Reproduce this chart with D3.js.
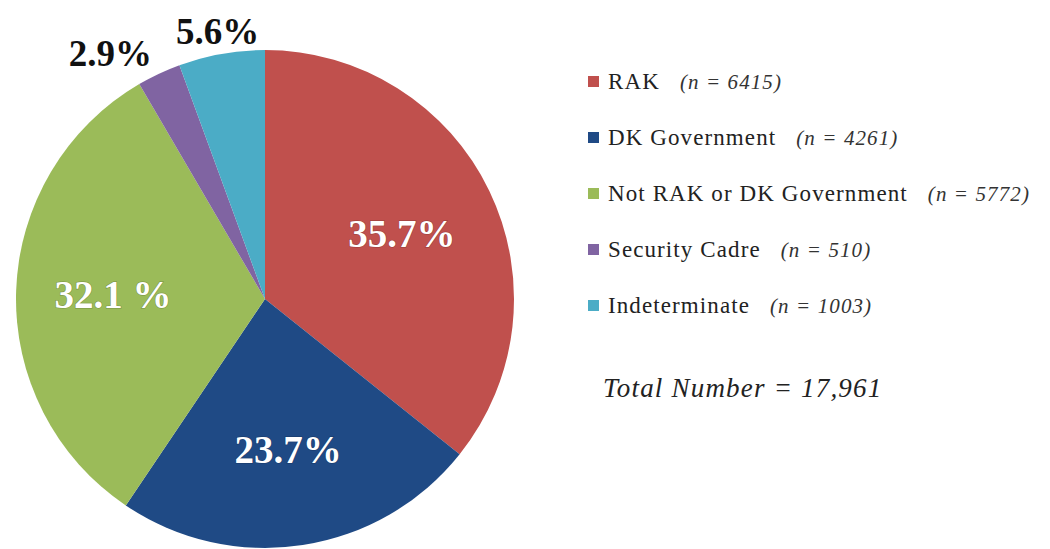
<!DOCTYPE html>
<html>
<head>
<meta charset="utf-8">
<script src="https://cdn.jsdelivr.net/npm/d3@7"></script>
<style>
  body { margin: 0; background: #fff; }
  svg text { font-family: "Liberation Serif", "Times New Roman", Times, serif; }
</style>
</head>
<body>
<svg id="chart"></svg>
<script>
// data
var categories = ["RAK", "DK Government", "Not RAK or DK Government", "Security Cadre", "Indeterminate"];
var counts = [6415, 4261, 5772, 510, 1003];
var pctLabels = ["35.7%", "23.7%", "32.1 %", "2.9%", "5.6%"];
var colors = ["#C0504D", "#1F4A85", "#9BBB59", "#8064A2", "#4BACC6"];
var totalLabel = "Total Number = 17,961";

var width = 1050, height = 549;
var cx = 265, cy = 299, radius = 249;

var svg = d3.select("#chart")
  .attr("width", width)
  .attr("height", height);

var data = categories.map(function(c, i) {
  return { name: c, n: counts[i], label: pctLabels[i], color: colors[i] };
});

var pie = d3.pie().sort(null).value(function(d) { return d.n; });
var arcs = pie(data);

var arc = d3.arc().innerRadius(0).outerRadius(radius);
var inArc = d3.arc().innerRadius(152).outerRadius(152);
var outArc = d3.arc().innerRadius(272).outerRadius(272);

var g = svg.append("g").attr("transform", "translate(" + cx + "," + cy + ")");

g.selectAll("path.slice")
  .data(arcs)
  .enter().append("path")
  .attr("class", "slice")
  .attr("d", arc)
  .attr("fill", function(d) { return d.data.color; });

// small slices get their label outside
function isSmall(d) { return (d.endAngle - d.startAngle) < 0.5; }

g.selectAll("text.inlab")
  .data(arcs.filter(function(d) { return !isSmall(d); }))
  .enter().append("text")
  .attr("class", "inlab")
  .attr("x", function(d) { return inArc.centroid(d)[0]; })
  .attr("y", function(d) { return inArc.centroid(d)[1]; })
  .attr("dy", "0.35em")
  .attr("text-anchor", "middle")
  .style("font-size", "39px")
  .style("font-weight", "bold")
  .style("fill", "#fff")
  .style("paint-order", "stroke")
  .style("stroke", "rgba(0,0,0,0.18)")
  .style("stroke-width", "1.5px")
  .text(function(d) { return d.data.label; });

var outLabs = g.selectAll("text.outlab")
  .data(arcs.filter(isSmall))
  .enter().append("text")
  .attr("class", "outlab")
  .attr("x", function(d) { return outArc.centroid(d)[0]; })
  .attr("y", function(d) { return outArc.centroid(d)[1]; })
  .attr("dy", "0.35em")
  .attr("text-anchor", "middle")
  .style("font-size", "37px")
  .style("font-weight", "bold")
  .style("fill", "#111")
  .text(function(d) { return d.data.label; });

// push overlapping outside labels to the left (walk from the last one back)
var nodes = outLabs.nodes();
for (var i = nodes.length - 2; i >= 0; i--) {
  var a = nodes[i].getBBox(), b = nodes[i + 1].getBBox();
  var gap = 24;
  if (a.x + a.width + gap > b.x) {
    var shift = a.x + a.width + gap - b.x;
    d3.select(nodes[i]).attr("x", +d3.select(nodes[i]).attr("x") - shift);
  }
}

// legend
var legend = svg.append("g").attr("transform", "translate(588,89)");
var rowH = 56;

var rows = legend.selectAll("g.row")
  .data(data)
  .enter().append("g")
  .attr("class", "row")
  .attr("transform", function(d, i) { return "translate(0," + i * rowH + ")"; });

rows.append("rect")
  .attr("x", 0)
  .attr("y", -13)
  .attr("width", 11)
  .attr("height", 11)
  .attr("fill", function(d) { return d.color; });

var lt = rows.append("text")
  .attr("x", 20)
  .attr("y", 0)
  .style("font-size", "23px")
  .style("letter-spacing", "1.1px")
  .style("fill", "#222");

lt.append("tspan").text(function(d) { return d.name; });
lt.append("tspan")
  .attr("dx", 20)
  .style("font-style", "italic")
  .style("font-size", "21px")
  .style("fill", "#333")
  .text(function(d) { return "(n = " + d.n + ")"; });

svg.append("text")
  .attr("x", 603)
  .attr("y", 397)
  .style("font-size", "27px")
  .style("letter-spacing", "1.2px")
  .style("font-style", "italic")
  .style("fill", "#222")
  .text(totalLabel);
</script>
</body>
</html>
